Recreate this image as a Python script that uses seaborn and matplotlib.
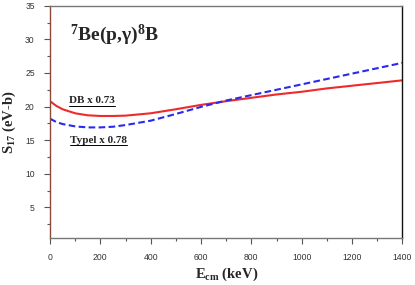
import numpy as np
import pandas as pd
import matplotlib
matplotlib.use("Agg")
import matplotlib.pyplot as plt
import seaborn as sns
from matplotlib.ticker import MultipleLocator

# data (S17 in eV-b vs E_cm in keV)
energy = [0, 25, 50, 100, 150, 200, 250, 300, 400, 500, 600, 700, 800, 900, 1000, 1100, 1200, 1300, 1400]
s17_db = [20.8, 20.1, 19.6, 19.0, 18.7, 18.6, 18.6, 18.65, 19.0, 19.6, 20.25, 20.8, 21.3, 21.8, 22.2, 22.7, 23.1, 23.5, 23.9]
s17_typel = [18.2, 17.7, 17.4, 17.05, 16.9, 16.9, 17.0, 17.25, 17.9, 18.9, 19.95, 20.9, 21.7, 22.5, 23.3, 24.1, 24.9, 25.7, 26.5]

df = pd.DataFrame({
    "E": energy * 2,
    "S17": s17_db + s17_typel,
    "model": ["DB"] * len(energy) + ["Typel"] * len(energy),
})

sns.set_style("white")
plt.rcParams["mathtext.fontset"] = "custom"
plt.rcParams["mathtext.rm"] = "Liberation Serif:bold"
plt.rcParams["mathtext.it"] = "Liberation Serif:bold"
plt.rcParams["mathtext.bf"] = "Liberation Serif:bold"

fig = plt.figure(figsize=(4.15, 2.85), dpi=100)
ax = fig.add_axes([0.1205, 0.166, 0.849, 0.814])

sns.lineplot(data=df, x="E", y="S17", hue="model", style="model",
             palette={"DB": "#ee2a2a", "Typel": "#2a2aee"},
             dashes={"DB": "", "Typel": (3.2, 1.6)},
             linewidth=1.5, legend=False, ax=ax)

ax.set_xlim(0, 1400)
ax.set_ylim(0.5, 35)
ax.xaxis.set_major_locator(MultipleLocator(200))
ax.xaxis.set_minor_locator(MultipleLocator(100))
ax.yaxis.set_major_locator(MultipleLocator(5))
ax.yaxis.set_minor_locator(MultipleLocator(2.5))
ax.set_yticks([5, 10, 15, 20, 25, 30, 35])
ax.tick_params(which="both", direction="out", bottom=True, left=True,
               colors="#555555", labelsize=6.2, pad=7)
ax.tick_params(which="major", length=4, width=0.8)
ax.tick_params(which="minor", length=2.5, width=0.8)
for lab in ax.get_xticklabels() + ax.get_yticklabels():
    lab.set_family("Liberation Sans")
    lab.set_color("#333333")

for side in ["top", "bottom"]:
    ax.spines[side].set_color("#777777")
ax.spines["left"].set_color("#8a4a3a")
ax.spines["right"].set_color("#111111")
for sp in ax.spines.values():
    sp.set_linewidth(1.0)

ax.set_xlabel(r"E$_{\mathrm{cm}}$ (keV)", family="Liberation Serif",
              weight="bold", fontsize=10.5, labelpad=3)
ax.set_ylabel(r"S$_{\mathrm{17}}$ (eV-b)", family="Liberation Serif",
              weight="bold", fontsize=10.5, labelpad=5)

ax.text(78, 30.7, r"$^{7}$Be(p,γ)$^{8}$B", family="Liberation Serif",
        weight="bold", fontsize=14, va="center")

# underlined annotations
labels = [("DB x 0.73", 74, 20.9), ("Typel x 0.78", 78, 15.0)]
fig.canvas.draw()
for txt, x, y in labels:
    t = ax.text(x, y, txt, family="Liberation Serif", weight="bold",
                fontsize=8, va="center")
    fig.canvas.draw()
    bb = t.get_window_extent().transformed(ax.transData.inverted())
    ax.plot([bb.x0, bb.x1], [bb.y0 - 0.1, bb.y0 - 0.1], color="black", lw=0.7)

fig.savefig("out.png", dpi=100)
